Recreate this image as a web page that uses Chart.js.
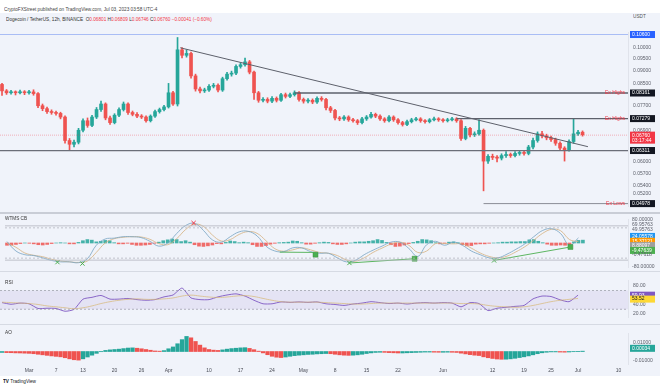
<!DOCTYPE html>
<html>
<head>
<meta charset="utf-8">
<script src="https://cdn.jsdelivr.net/npm/chart.js@4.4.1/dist/chart.umd.min.js"></script>
<style>
body{margin:0;width:660px;height:389px;background:#fff;position:relative;overflow:hidden;font-family:"Liberation Sans",Arial,sans-serif;}
#frame{position:absolute;left:0;top:13px;width:660px;height:363px;background:#f0f3fa;}
canvas{position:absolute;left:0;}
.tx{position:absolute;font-size:9.4px;transform:scale(0.5);transform-origin:0 0;white-space:nowrap;color:#333;}
.r{color:#f23645;}
.sep{position:absolute;left:0;width:660px;height:1px;background:#d6dae3;}
</style>
</head>
<body>
<div id="frame"></div>
<div class="tx" style="left:4px;top:6px;color:#444">CryptoFXStreet published on TradingView.com, Jul 03, 2023 03:58 UTC-4</div>
<div class="tx" style="left:6px;top:16px">Dogecoin / TetherUS, 12h, BINANCE&nbsp; O<span class="r">0.06801</span> H<span class="r">0.06809</span> L<span class="r">0.06746</span> C<span class="r">0.06760 −0.00041 (−0.60%)</span></div>
<div class="tx" style="left:633px;top:13px;color:#555">USDT</div>

<canvas id="main" width="660" height="190" style="top:24px"></canvas>
<canvas id="wt" width="660" height="58" style="top:214px"></canvas>
<canvas id="rsi" width="660" height="53" style="top:272px"></canvas>
<canvas id="ao" width="660" height="51" style="top:325px"></canvas>

<div class="sep" style="top:212px;height:2px;background:#c9cdd6"></div>
<div class="sep" style="top:271px"></div>
<div class="sep" style="top:324px"></div>

<div class="tx" style="left:5px;top:215px">WTMS CB</div>
<div class="tx" style="left:5px;top:279px">RSI</div>
<div class="tx" style="left:5px;top:329px">AO</div>
<div class="tx" style="left:3px;top:378px;color:#131722"><b>TV</b> TradingView</div>

<script>
// DOGE/USDT, one candle per day from Feb 23 (day 1) to Jul 2 (day 130)
const opens = [.0848,.0824,.0817,.0820,.0817,.0820,.0817,.0820,.0814,.0771,
.0761,.0751,.0748,.0745,.0733,.0660,.0649,.0655,.0691,.0721,
.0706,.0733,.0758,.0777,.0730,.0715,.0739,.0758,.0777,.0748,
.0742,.0736,.0733,.0721,.0736,.0751,.0758,.0767,.0817,.0777,
.0990,.0966,.0974,.0881,.0831,.0824,.0827,.0841,.0845,.0827,
.0870,.0888,.0892,.0919,.0926,.0938,.0896,.0817,.0790,.0793,
.0787,.0797,.0790,.0810,.0804,.0810,.0817,.0793,.0787,.0790,
.0784,.0797,.0793,.0764,.0755,.0730,.0727,.0733,.0724,.0721,
.0715,.0727,.0733,.0742,.0736,.0727,.0721,.0733,.0724,.0715,
.0709,.0718,.0724,.0727,.0721,.0718,.0724,.0727,.0724,.0721,
.0724,.0727,.0721,.0666,.0697,.0677,.0680,.0691,.0602,.0615,
.0612,.0610,.0617,.0620,.0617,.0623,.0625,.0623,.0641,.0660,
.0680,.0674,.0668,.0663,.0652,.0638,.0633,.0657,.0680,.0685];
const closes = [.0824,.0817,.0820,.0817,.0820,.0817,.0820,.0814,.0771,.0761,
.0751,.0748,.0745,.0733,.0660,.0649,.0655,.0691,.0721,.0706,
.0733,.0758,.0777,.0730,.0715,.0739,.0758,.0777,.0748,.0742,
.0736,.0733,.0721,.0736,.0751,.0758,.0767,.0817,.0777,.0990,
.0966,.0974,.0881,.0831,.0824,.0827,.0841,.0845,.0827,.0870,
.0888,.0892,.0919,.0926,.0938,.0896,.0817,.0790,.0793,.0787,
.0797,.0790,.0810,.0804,.0810,.0817,.0793,.0787,.0790,.0784,
.0797,.0793,.0764,.0755,.0730,.0727,.0733,.0724,.0721,.0715,
.0727,.0733,.0742,.0736,.0727,.0721,.0733,.0724,.0715,.0709,
.0718,.0724,.0727,.0721,.0718,.0724,.0727,.0724,.0721,.0724,
.0727,.0721,.0666,.0697,.0677,.0680,.0691,.0602,.0615,.0612,
.0610,.0617,.0620,.0617,.0623,.0625,.0623,.0641,.0660,.0680,
.0674,.0668,.0663,.0652,.0638,.0633,.0657,.0680,.0685,.0677];
const highs = [.0852,.0829,.0826,.0824,.0827,.0825,.0826,.0828,.0818,.0777,
.0766,.0757,.0753,.0749,.0737,.0666,.0661,.0697,.0727,.0730,
.0739,.0765,.0787,.0781,.0736,.0744,.0764,.0784,.0781,.0753,
.0748,.0741,.0737,.0740,.0756,.0763,.0772,.0852,.0822,.1046,
.1000,.0990,.0980,.0888,.0838,.0834,.0847,.0852,.0850,.0876,
.0895,.0900,.0926,.0934,.0954,.0944,.0900,.0822,.0800,.0799,
.0803,.0802,.0815,.0816,.0816,.0824,.0821,.0798,.0796,.0795,
.0802,.0803,.0797,.0769,.0759,.0735,.0738,.0737,.0729,.0725,
.0732,.0738,.0749,.0746,.0740,.0731,.0738,.0737,.0728,.0719,
.0723,.0729,.0732,.0731,.0725,.0728,.0733,.0731,.0728,.0729,
.0732,.0731,.0725,.0703,.0700,.0686,.0724,.0695,.0620,.0621,
.0617,.0622,.0628,.0624,.0628,.0630,.0629,.0646,.0667,.0686,
.0688,.0679,.0673,.0667,.0656,.0642,.0662,.0727,.0691,.0689];
const lows = [.0807,.0811,.0812,.0809,.0813,.0810,.0812,.0808,.0764,.0754,
.0745,.0742,.0739,.0727,.0652,.0633,.0641,.0650,.0686,.0700,
.0702,.0728,.0752,.0724,.0709,.0711,.0734,.0753,.0742,.0737,
.0731,.0728,.0716,.0717,.0732,.0746,.0753,.0763,.0772,.0770,
.0955,.0958,.0872,.0823,.0816,.0818,.0822,.0835,.0820,.0822,
.0864,.0880,.0886,.0912,.0920,.0889,.0793,.0783,.0784,.0781,
.0782,.0784,.0786,.0798,.0799,.0805,.0787,.0780,.0781,.0778,
.0779,.0787,.0757,.0748,.0724,.0721,.0722,.0719,.0716,.0709,
.0711,.0722,.0729,.0731,.0722,.0716,.0717,.0719,.0710,.0704,
.0705,.0714,.0720,.0716,.0713,.0714,.0720,.0719,.0716,.0717,
.0720,.0716,.0660,.0662,.0671,.0672,.0676,.0527,.0596,.0606,
.0600,.0605,.0612,.0612,.0613,.0618,.0618,.0619,.0636,.0655,
.0668,.0662,.0657,.0646,.0633,.0602,.0629,.0652,.0675,.0673];

// x axis labels (day numbers)
const tickDays = [7,13,19,26,32,38,47,54,61,68,75,82,89,99,110,117,123,129,138];
const tickText = ['Mar','7','13','20','26','Apr','10','17','24','May','8','15','22','Jun','12','19','25','Jul','10'];
const priceTicks = [0.100,0.095,0.090,0.085,0.077,0.069,0.060,0.057,0.054,0.052];

// drawings
const alertLevel = 0.1060;
const exHigh1 = 0.08161, exHigh1From = 66;
const exHigh2 = 0.07279, exHigh2From = 102;
const supportLevel = 0.06311;
const exLow = 0.04978, exLowFrom = 108;
const lastPrice = 0.06760;
const trendDays = [40.6, 131.2];
const trendPrices = [0.0999, 0.0642];

// WaveTrend (every second day: 1,3,...,129)
const wt1 = [5,-28,-41,-44,-52,-61,-66,-66,-69,-55,-8,14,17,22,22,19,6,-11,0,33,61,69,44,11,3,22,39,41,25,-11,-28,-30,-17,-17,-30,-36,-36,-52,-66,-61,-41,-25,-11,3,3,-19,-47,-6,6,-8,3,-8,-28,-41,-52,-52,-39,-22,-3,22,44,50,33,-8,18];
const wt2 = [0,-15,-35,-43,-48,-57,-63,-66,-68,-63,-33,0,15,20,22,21,13,-2,-6,15,47,66,58,28,7,12,30,40,34,8,-20,-29,-24,-17,-24,-33,-36,-44,-59,-64,-52,-33,-18,-4,3,-8,-33,-28,-2,-2,-3,-3,-18,-35,-47,-52,-46,-31,-13,10,34,48,43,12,5];
const wtHist = [-8,-7,-5,-2,0,-1,-3,-6,-7,-5,-2,0,1,0,-3,-3,2,8,12,10,4,6,9,8,1,-3,-3,-1,-5,-8,
-8,-7,-5,-1,3,8,11,14,12,5,8,3,-6,-11,-12,-10,-7,-2,-3,2,7,5,1,3,1,-6,-12,-12,-9,-4,
-1,1,2,3,7,6,1,-4,-4,-1,1,3,2,-3,-5,-5,-3,0,3,4,4,6,8,12,9,2,-6,-12,-11,-7,
-2,2,6,12,11,8,1,-3,-1,3,4,1,-6,-10,-9,-4,-3,-3,-1,0,1,3,3,4,4,5,5,11,12,6,
1,-4,-8,-8,-7,-8,-5,4,9,10];
const crossDays = [12.3, 17.9, 42.8, 77.7, 110.1];
const crossVals = [-67, -72, 70, -70, -61];
const crossCols = ['#4caf50','#4caf50','#f23645','#4caf50','#4caf50'];
const sqDays = [70.1, 92.3, 127.2];
const sqVals = [-41, -55, -14];
const divLines = [[[62.1,-32],[70.1,-33]], [[77.7,-70],[92.3,-55]], [[110.1,-61],[127.2,-14]]];

// RSI (every second day)
const rsi = [44,40.5,43,41.5,31.5,32,31.5,25.6,29.5,51.5,55.3,59.3,51.5,51.5,52.9,50.4,49,50.4,56.3,60.3,75,54,50.4,50.4,56.3,60.3,62.7,58,49,41.5,41.5,45.5,44.5,45.5,44.5,45.5,41.5,40,38,41,43,46,44,42,43,41,43,44,43,44,43,35,44,42,27,32,34,36,38,52,58,57,50,46,60];
const rsiMa = [45,44,43,42,40,37,35,33,31,33,37,42,46,49,51,52,51,51,52,54,58,60,58,56,55,56,58,59,57,53,49,46,45,45,45,45,44,43,42,41,41,42,43,43,43,43,43,43,43,43,43,42,42,41,38,36,35,34,35,38,42,46,49,51,53];

// Awesome Oscillator (daily)
const ao = [-0.0010,-0.0012,-0.0013,-0.0015,-0.0016,-0.0018,-0.0020,-0.0024,-0.0030,-0.0036,
-0.0042,-0.0048,-0.0053,-0.0058,-0.0068,-0.0080,-0.0090,-0.0094,-0.0080,-0.0060,
-0.0040,-0.0020,-0.0002,0.0012,0.0018,0.0022,0.0026,0.0032,0.0038,0.0040,
0.0036,0.0030,0.0022,0.0014,0.0006,0.0004,0.0010,0.0030,0.0050,0.0085,
0.0130,0.0165,0.0150,0.0110,0.0070,0.0040,0.0022,0.0015,0.0012,0.0018,
0.0026,0.0032,0.0036,0.0040,0.0042,0.0034,0.0020,0.0004,-0.0015,-0.0035,
-0.0052,-0.0062,-0.0066,-0.0060,-0.0052,-0.0045,-0.0040,-0.0036,-0.0032,-0.0030,
-0.0026,-0.0024,-0.0022,-0.0024,-0.0030,-0.0036,-0.0040,-0.0042,-0.0040,-0.0036,
-0.0030,-0.0022,-0.0015,-0.0010,-0.0008,-0.0009,-0.0012,-0.0014,-0.0016,-0.0016,
-0.0014,-0.0012,-0.0010,-0.0008,-0.0006,-0.0006,-0.0007,-0.0008,-0.0008,-0.0007,
-0.0008,-0.0010,-0.0018,-0.0026,-0.0034,-0.0040,-0.0044,-0.0058,-0.0068,-0.0076,
-0.0082,-0.0085,-0.0084,-0.0080,-0.0074,-0.0066,-0.0058,-0.0048,-0.0036,-0.0024,
-0.0014,-0.0008,-0.0004,-0.0004,-0.0006,-0.0007,-0.0005,-0.0002,0.0002,0.0004];

const X_MIN = 0.55, X_MAX = 140.1;
const UP = '#26a69a', DOWN = '#ef5350';
const FONT = '"Liberation Sans", Arial, sans-serif';
Chart.defaults.font.family = FONT;

const days = closes.map((_, k) => k + 1);
const halfDays = wt1.map((_, k) => 1 + 2 * k);
const pts = (xs, ys) => xs.map((x, k) => ({x: x, y: ys[k]}));

// labels on the price scale
const tagPlugin = {
  id: 'tags',
  afterDraw(chart, args, opts) {
    const ctx = chart.ctx, ys = chart.scales.y, right = chart.chartArea.right;
    ctx.save();
    ctx.font = '5px ' + FONT;
    ctx.textBaseline = 'middle';
    (opts.list || []).forEach(t => {
      const py = ys.getPixelForValue(t.v);
      if (t.bg) {
        ctx.fillStyle = t.bg;
        ctx.fillRect(right + 2, py - 3.5, 25, t.sub ? 12 : 7);
      }
      ctx.fillStyle = t.fg || '#5d606b';
      ctx.textAlign = 'left';
      ctx.fillText(t.text, right + 4, py);
      if (t.sub) ctx.fillText(t.sub, right + 4, py + 5.5);
      if (t.note) {
        ctx.fillStyle = '#f23645';
        ctx.textAlign = 'right';
        ctx.fillText(t.note, right - 3, py);
      }
    });
    ctx.restore();
  }
};

function xScale(show) {
  return {
    type: 'linear', min: X_MIN, max: X_MAX, offset: false, display: show,
    grid: {display: false, drawTicks: false, offset: false},
    border: {display: false},
    afterBuildTicks: ax => { ax.ticks = tickDays.map(v => ({value: v})); },
    afterFit: ax => { ax.height = show ? 12 : 0; },
    ticks: {autoSkip: false, maxRotation: 0, padding: 4, color: '#4a4d57', font: {size: 5},
      callback: v => tickText[tickDays.indexOf(v)]}
  };
}

function yScale(extra) {
  return Object.assign({
    position: 'right',
    grid: {display: false, drawTicks: false},
    border: {display: true, color: '#e0e3eb'},
    afterFit: ax => { ax.width = 32; },
    ticks: {autoSkip: false, padding: 5, color: '#5d606b', font: {size: 5}}
  }, extra);
}

function level(x0, x1, v, color, width, dash) {
  return {type: 'line', data: [{x: x0, y: v}, {x: x1, y: v}], borderColor: color,
    borderWidth: width, borderDash: dash || [], pointRadius: 0, order: 0};
}

const baseOpts = (scales, tags) => ({
  responsive: false, animation: false, devicePixelRatio: 1,
  layout: {padding: 0},
  plugins: {legend: {display: false}, tooltip: {enabled: false}, tags: {list: tags}},
  scales: scales
});

const candleCol = ctx => closes[ctx.dataIndex] >= opens[ctx.dataIndex] ? UP : DOWN;

// ---- price pane
const mainOpts = baseOpts({
  x: xScale(false),
  y: yScale({type: 'logarithmic', min: 0.04925, max: 0.1072,
    afterBuildTicks: ax => { ax.ticks = priceTicks.map(v => ({value: v})); },
    ticks: {autoSkip: false, padding: 5, color: '#5d606b', font: {size: 5}, callback: v => v.toFixed(5)}})
}, [
  {v: alertLevel, text: alertLevel.toFixed(5), bg: '#2962ff', fg: '#fff'},
  {v: exHigh1, text: exHigh1.toFixed(5), bg: '#131722', fg: '#fff', note: 'Ex Highs'},
  {v: exHigh2, text: exHigh2.toFixed(5), bg: '#131722', fg: '#fff', note: 'Ex Highs'},
  {v: lastPrice, text: lastPrice.toFixed(5), sub: '03:17:44', bg: '#f23645', fg: '#fff'},
  {v: supportLevel, text: supportLevel.toFixed(5), bg: '#131722', fg: '#fff'},
  {v: exLow, text: exLow.toFixed(5), bg: '#131722', fg: '#fff', note: 'Ex Lows'}
]);
mainOpts.layout.padding = {top: 3, bottom: 1};

new Chart(document.getElementById('main'), {
  type: 'bar',
  data: {datasets: [
    level(X_MIN, X_MAX, lastPrice, 'rgba(242,54,69,0.45)', 0.8, [1, 1]),
    {type: 'bar', data: days.map((d, k) => ({x: d, y: [lows[k], highs[k]]})), backgroundColor: candleCol,
      barThickness: 1, grouped: false, order: 2},
    {type: 'bar', data: days.map((d, k) => ({x: d, y: [opens[k], closes[k]]})), backgroundColor: candleCol,
      barThickness: 3, minBarLength: 1, grouped: false, order: 1},
    level(X_MIN, X_MAX, alertLevel, '#a9bdf5', 1.2),
    level(exHigh1From, X_MAX, exHigh1, '#5d606b', 1.3),
    level(exHigh2From, X_MAX, exHigh2, '#5d606b', 1.3),
    level(X_MIN, X_MAX, supportLevel, '#6b6e78', 1.3),
    level(exLowFrom, X_MAX, exLow, '#8a8d96', 1),
    {type: 'line', data: pts(trendDays, trendPrices), borderColor: '#5d606b', borderWidth: 1, pointRadius: 0, order: 0}
  ]},
  options: mainOpts,
  plugins: [tagPlugin]
});

// ---- WaveTrend pane
new Chart(document.getElementById('wt'), {
  type: 'bar',
  data: {datasets: [
    {type: 'bar', data: pts(days, wtHist), backgroundColor: c => wtHist[c.dataIndex] >= 0 ? 'rgba(38,166,154,0.85)' : 'rgba(239,83,80,0.85)',
      barThickness: 3, grouped: false, order: 3},
    level(X_MIN, X_MAX, 60, '#b2b5be', 0.8),
    level(X_MIN, X_MAX, 53, '#b2b5be', 0.8, [2, 2]),
    level(X_MIN, X_MAX, -53, '#b2b5be', 0.8, [2, 2]),
    level(X_MIN, X_MAX, -60, '#b2b5be', 0.8),
    {type: 'line', data: pts(halfDays, wt1), borderColor: 'rgba(120,165,195,0.9)', borderWidth: 0.9, tension: 0.4, pointRadius: 0, order: 1},
    {type: 'line', data: pts(halfDays, wt2), borderColor: 'rgba(214,178,130,0.9)', borderWidth: 0.9, tension: 0.4, pointRadius: 0, order: 1},
    ...divLines.map(l => ({type: 'line', data: l.map(p => ({x: p[0], y: p[1]})), borderColor: '#4caf50', borderWidth: 0.9, pointRadius: 0, order: 0})),
    {type: 'line', data: pts(crossDays, crossVals), showLine: false, pointStyle: 'crossRot', pointRadius: 3,
      pointBorderColor: crossCols, pointBorderWidth: 1, order: 0},
    {type: 'line', data: pts(sqDays, sqVals), showLine: false, pointStyle: 'rect', pointRadius: 3.5,
      pointBackgroundColor: '#4caf50', pointBorderColor: '#388e3c', pointBorderWidth: 0.5, order: 0}
  ]},
  options: baseOpts({x: xScale(false), y: yScale({min: -84, max: 84, ticks: {display: false}})}, [
    {v: 82, text: '80.00000'},
    {v: 64, text: '69.95763'},
    {v: 46, text: '49.95763'},
    {v: 23, text: '24.05578', bg: '#2196f3', fg: '#fff'},
    {v: 6, text: '15.37121', bg: '#ff9800', fg: '#fff'},
    {v: -9, text: '8.88097', bg: '#9e9e9e', fg: '#fff'},
    {v: -26, text: '-9.47639', bg: '#4caf50', fg: '#fff'},
    {v: -41, text: '-0.47618'},
    {v: -81, text: '-80.00000'}
  ]),
  plugins: [tagPlugin]
});

// ---- RSI pane
new Chart(document.getElementById('rsi'), {
  type: 'line',
  data: {datasets: [
    {data: [{x: X_MIN, y: 70}, {x: X_MAX, y: 70}], borderColor: '#9598a1', borderWidth: 0.7, borderDash: [2, 2],
      pointRadius: 0, fill: '+1', backgroundColor: 'rgba(126,87,194,0.10)'},
    {data: [{x: X_MIN, y: 30}, {x: X_MAX, y: 30}], borderColor: '#9598a1', borderWidth: 0.7, borderDash: [2, 2], pointRadius: 0},
    {data: pts(halfDays, rsiMa), borderColor: 'rgba(225,195,110,0.9)', borderWidth: 0.8, tension: 0.4, pointRadius: 0},
    {data: pts(halfDays, rsi), borderColor: '#7e57c2', borderWidth: 0.9, tension: 0.2, pointRadius: 0}
  ]},
  options: baseOpts({x: xScale(false), y: yScale({min: 13.3, max: 92.3,
    afterBuildTicks: ax => { ax.ticks = [80, 40, 20].map(v => ({value: v})); },
    ticks: {autoSkip: false, padding: 5, color: '#5d606b', font: {size: 5}, callback: v => v.toFixed(2)}})}, [
    {v: 59.9, text: '59.93', bg: '#7e57c2', fg: '#fff'},
    {v: 51.5, text: '53.52', bg: '#fdd835', fg: '#131722'}
  ]),
  plugins: [tagPlugin]
});

// ---- AO pane with the time axis
new Chart(document.getElementById('ao'), {
  type: 'bar',
  data: {datasets: [
    {data: pts(days, ao), backgroundColor: c => (c.dataIndex === 0 || ao[c.dataIndex] >= ao[c.dataIndex - 1]) ? UP : DOWN,
      barThickness: 3.6}
  ]},
  options: baseOpts({x: xScale(true), y: yScale({min: -0.01365, max: 0.02026,
    afterBuildTicks: ax => { ax.ticks = [0.01, -0.01].map(v => ({value: v})); },
    ticks: {autoSkip: false, padding: 5, color: '#5d606b', font: {size: 5}, callback: v => v.toFixed(5)}})}, [
    {v: 0.0035, text: '0.00034', bg: '#26a69a', fg: '#fff'}
  ]),
  plugins: [tagPlugin]
});
</script>
</body>
</html>
